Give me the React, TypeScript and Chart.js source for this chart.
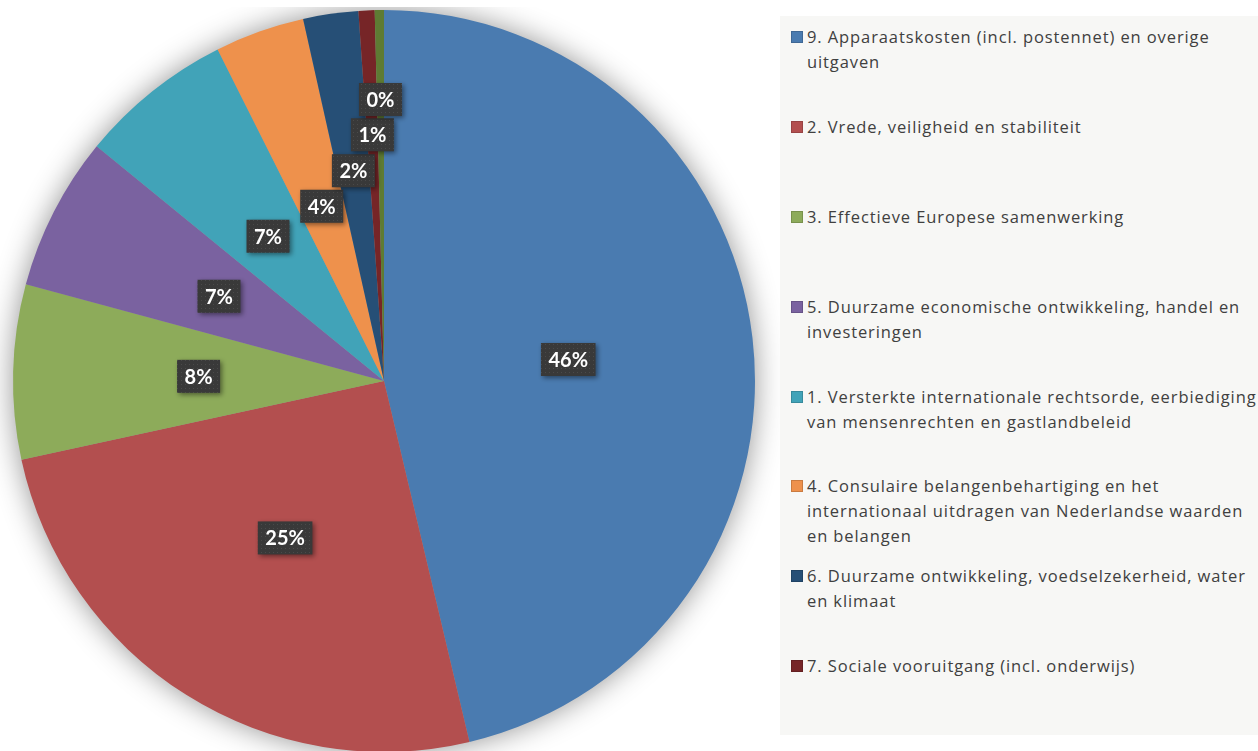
import React, { useEffect, useRef } from "react";
import { Chart, registerables } from "chart.js";

Chart.register(...registerables);

const legendLines: string[][] = [
  ["9. Apparaatskosten (incl. postennet) en overige", "uitgaven"],
  ["2. Vrede, veiligheid en stabiliteit"],
  ["3. Effectieve Europese samenwerking"],
  ["5. Duurzame economische ontwikkeling, handel en", "investeringen"],
  ["1. Versterkte internationale rechtsorde, eerbiediging", "van mensenrechten en gastlandbeleid"],
  [
    "4. Consulaire belangenbehartiging en het",
    "internationaal uitdragen van Nederlandse waarden",
    "en belangen",
  ],
  ["6. Duurzame ontwikkeling, voedselzekerheid, water", "en klimaat"],
  ["7. Sociale vooruitgang (incl. onderwijs)"],
];
const categories = [...legendLines.map((l) => l.join(" ")), "8."];
const shares = [46.3, 25.3, 7.6, 6.7, 6.7, 3.9, 2.4, 0.7, 0.4];
const percentLabels = ["46%", "25%", "8%", "7%", "7%", "4%", "2%", "1%", "0%"];
const colors = [
  "#4a7bb0",
  "#b34f4f",
  "#8dab5a",
  "#7a62a0",
  "#41a3b8",
  "#ee914c",
  "#264f76",
  "#762527",
  "#5e7b33",
];

const pieShadow = {
  id: "pieShadow",
  beforeDatasetsDraw(chart: any) {
    const meta = chart.getDatasetMeta(0);
    const arc = meta.data[0];
    if (!arc) return;
    const { x, y, outerRadius } = arc.getProps(["x", "y", "outerRadius"], true);
    const ctx = chart.ctx;
    ctx.save();
    ctx.shadowColor = "rgba(0,0,0,0.45)";
    ctx.shadowBlur = 30;
    ctx.fillStyle = "#9a9a9a";
    ctx.beginPath();
    ctx.arc(x, y, outerRadius - 1, 0, Math.PI * 2);
    ctx.fill();
    ctx.restore();
  },
};

let dotPattern: CanvasPattern | null = null;
function getPattern(ctx: CanvasRenderingContext2D) {
  if (dotPattern) return dotPattern;
  const c = document.createElement("canvas");
  c.width = 4;
  c.height = 4;
  const g = c.getContext("2d")!;
  g.fillStyle = "#393939";
  g.fillRect(0, 0, 4, 4);
  g.fillStyle = "#4a4a4a";
  g.fillRect(1, 1, 1, 1);
  dotPattern = ctx.createPattern(c, "repeat");
  return dotPattern;
}

const boxLabels = {
  id: "boxLabels",
  afterDatasetsDraw(chart: any) {
    const ctx: CanvasRenderingContext2D = chart.ctx;
    const meta = chart.getDatasetMeta(0);
    const placed: { l: number; r: number; t: number; b: number }[] = [];
    const pad = 2;
    ctx.save();
    ctx.font = "bold 20px Lato";
    meta.data.forEach((arc: any, i: number) => {
      const p = arc.getProps(["x", "y", "startAngle", "endAngle", "outerRadius"], true);
      const mid = (p.startAngle + p.endAngle) / 2;
      const text = percentLabels[i];
      const w = ctx.measureText(text).width + 15;
      const h = 33;
      let d = p.outerRadius * 0.5;
      let box: any;
      for (let k = 0; k < 400; k++) {
        const cx = p.x + Math.cos(mid) * d;
        const cy = p.y + Math.sin(mid) * d;
        box = { l: cx - w / 2, r: cx + w / 2, t: cy - h / 2, b: cy + h / 2, cx, cy };
        const hit = placed.some(
          (o) =>
            box.l < o.r + pad && box.r > o.l - pad && box.t < o.b + pad && box.b > o.t - pad
        );
        if (!hit) break;
        d += 1;
      }
      placed.push(box);
      ctx.save();
      ctx.shadowColor = "rgba(0,0,0,0.45)";
      ctx.shadowBlur = 5;
      ctx.shadowOffsetX = 2;
      ctx.shadowOffsetY = 2;
      ctx.fillStyle = getPattern(ctx) || "#3a3a3a";
      ctx.fillRect(box.l, box.t, w, h);
      ctx.restore();
      ctx.fillStyle = "#ffffff";
      ctx.textAlign = "center";
      ctx.textBaseline = "middle";
      ctx.fillText(text, box.cx, box.cy + 1);
    });
    ctx.restore();
  },
};

export default function App() {
  const ref = useRef<HTMLCanvasElement>(null);
  useEffect(() => {
    const chart = new Chart(ref.current!, {
      type: "pie",
      data: {
        labels: categories,
        datasets: [
          {
            data: shares,
            backgroundColor: colors,
            borderWidth: 0,
          },
        ],
      },
      options: {
        animation: false,
        responsive: false,
        layout: { padding: { left: 13, right: 25, top: 3, bottom: 18 } },
        plugins: {
          legend: { display: false },
          tooltip: { enabled: false },
        },
      },
      plugins: [pieShadow, boxLabels],
    });
    return () => chart.destroy();
  }, []);

  return (
    <div
      style={{
        position: "fixed",
        left: 0,
        top: 0,
        width: 1258,
        height: 751,
        overflow: "hidden",
        background: "#ffffff",
      }}
    >
      <canvas
        ref={ref}
        width={780}
        height={763}
        style={{ position: "absolute", left: 0, top: 7, width: 780, height: 763 }}
      />
      <div
        style={{
          position: "absolute",
          left: 780,
          top: 16,
          width: 478,
          height: 719,
          background: "#f7f7f5",
          display: "flex",
          flexDirection: "column",
          fontFamily: "'Open Sans', sans-serif",
          fontSize: 16.5,
          letterSpacing: "0.9px",
          color: "#404040",
          lineHeight: "25px",
          overflow: "hidden",
        }}
      >
        {legendLines.map((lines, i) => (
          <div key={i} style={{ flex: 1, position: "relative", paddingTop: 8 }}>
            <div
              style={{
                position: "absolute",
                left: 11,
                top: 15,
                width: 10,
                height: 10,
                background: colors[i],
                border: "0.5px solid rgba(0,0,0,0.15)",
              }}
            />
            <div style={{ marginLeft: 27, whiteSpace: "nowrap" }}>
              {lines.map((ln, j) => (
                <div key={j}>{ln}</div>
              ))}
            </div>
          </div>
        ))}
      </div>
    </div>
  );
}
